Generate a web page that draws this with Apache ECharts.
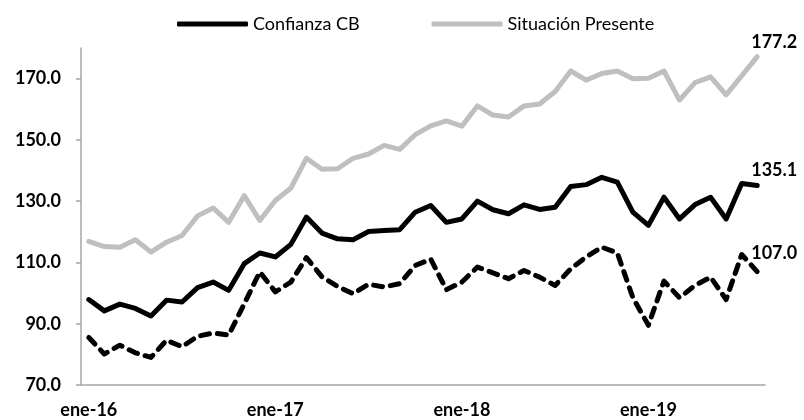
<!DOCTYPE html>
<html>
<head>
<meta charset="utf-8">
<script src="https://cdn.jsdelivr.net/npm/echarts@6/dist/echarts.min.js"></script>
<style>
    html, body { margin: 0; padding: 0; background: #fff; }
    #main { width: 804px; height: 420px; }
</style>
</head>
<body>
<div id="main"></div>
<script>
// meses ene-16 .. ago-19
const mesesNombres = ['ene', 'feb', 'mar', 'abr', 'may', 'jun', 'jul', 'ago', 'sep', 'oct', 'nov', 'dic'];
const anios = ['16', '17', '18', '19'];
const ultimoMes = 8;

const situacionPresente = [
    116.9, 115.2, 115.0, 117.4, 113.4, 116.6, 118.8, 125.2, 127.8, 123.1, 131.8, 123.7,
    130.2, 134.3, 144.0, 140.4, 140.6, 144.0, 145.4, 148.2, 146.9, 151.7, 154.6, 156.2,
    154.5, 161.1, 158.1, 157.5, 161.1, 161.7, 165.8, 172.5, 169.5, 171.7, 172.5, 170.0,
    170.1, 172.5, 163.0, 168.7, 170.6, 164.7, 170.9, 177.2
];
const confianzaCB = [
    97.9, 94.2, 96.4, 95.0, 92.5, 97.7, 97.1, 101.8, 103.6, 100.9, 109.6, 113.1,
    111.8, 115.9, 124.8, 119.6, 117.7, 117.4, 120.1, 120.4, 120.7, 126.4, 128.6, 123.1,
    124.2, 130.0, 127.2, 125.9, 128.8, 127.3, 128.0, 134.8, 135.4, 137.8, 136.2, 126.4,
    122.1, 131.3, 124.2, 128.9, 131.3, 124.2, 135.8, 135.1
];
const expectativas = [
    85.5, 80.1, 83.0, 80.5, 79.0, 84.6, 82.5, 85.9, 87.0, 86.3, 96.5, 106.9,
    100.4, 103.6, 111.6, 105.3, 102.2, 99.8, 102.9, 102.0, 103.1, 109.0, 111.1, 101.1,
    103.6, 108.5, 106.6, 104.7, 107.4, 105.2, 102.5, 107.9, 111.8, 115.0, 113.1, 98.5,
    89.5, 103.9, 98.5, 102.5, 105.2, 97.9, 112.6, 107.0
];
const yTicks = [70, 90, 110, 130, 150, 170];

const meses = [];
anios.forEach(function (a, k) {
    const n = k === anios.length - 1 ? ultimoMes : 12;
    for (let m = 0; m < n; m++) {
        meses.push(mesesNombres[m] + '-' + a);
    }
});

const fuente = 'Lato, "Open Sans", sans-serif';
const ejeColor = '#a6a6a6';

function etiquetaFinal(offsetY) {
    return {
        show: true,
        fontFamily: fuente,
        fontSize: 18,
        fontWeight: 'bold',
        color: '#000',
        distance: 0,
        offset: [-6, offsetY],
        formatter: function (p) { return p.value.toFixed(1); }
    };
}

let myChart = echarts.init(document.getElementById('main'));
myChart.setOption({
    animation: false,
    textStyle: { fontFamily: fuente },
    legend: {
        data: ['Confianza CB', 'Situación Presente'],
        left: 172,
        top: 10,
        icon: 'roundRect',
        itemWidth: 71,
        itemHeight: 5,
        itemGap: 72,
        textStyle: { fontFamily: fuente, fontSize: 18, color: '#000' }
    },
    grid: {
        left: 81,
        right: 39,
        top: 48,
        bottom: 35,
        outerBoundsMode: 'none'
    },
    xAxis: {
        type: 'category',
        data: meses,
        boundaryGap: true,
        axisLine: { lineStyle: { color: ejeColor, width: 1.5 } },
        axisTick: { interval: 11, length: 5, lineStyle: { color: ejeColor, width: 1.5 } },
        axisLabel: {
            interval: 11,
            margin: 16,
            fontFamily: fuente,
            fontSize: 18,
            fontWeight: 'bold',
            color: '#000'
        },
        splitLine: { show: false }
    },
    yAxis: {
        type: 'value',
        min: 70,
        max: 180,
        axisLine: { show: true, lineStyle: { color: ejeColor, width: 1.5 } },
        axisTick: { show: true, length: 5, customValues: yTicks, lineStyle: { color: ejeColor, width: 1.5 } },
        axisLabel: {
            customValues: yTicks,
            margin: 20,
            fontFamily: fuente,
            fontSize: 18,
            fontWeight: 'bold',
            color: '#000',
            formatter: function (v) { return v.toFixed(1); }
        },
        splitLine: { show: false }
    },
    series: [
        {
            name: 'Situación Presente',
            type: 'line',
            data: situacionPresente,
            symbol: 'none',
            color: '#bfbfbf',
            lineStyle: { color: '#bfbfbf', width: 5, join: 'round', cap: 'round' },
            endLabel: etiquetaFinal(-14)
        },
        {
            name: 'Confianza CB',
            type: 'line',
            data: confianzaCB,
            symbol: 'none',
            color: '#000',
            lineStyle: { color: '#000', width: 5, join: 'round', cap: 'round' },
            endLabel: etiquetaFinal(-15)
        },
        {
            name: 'Expectativas',
            type: 'line',
            data: expectativas,
            symbol: 'none',
            color: '#000',
            lineStyle: { color: '#000', width: 5, type: [9, 8], cap: 'round', join: 'round' },
            endLabel: etiquetaFinal(-18)
        }
    ]
});
</script>
</body>
</html>
